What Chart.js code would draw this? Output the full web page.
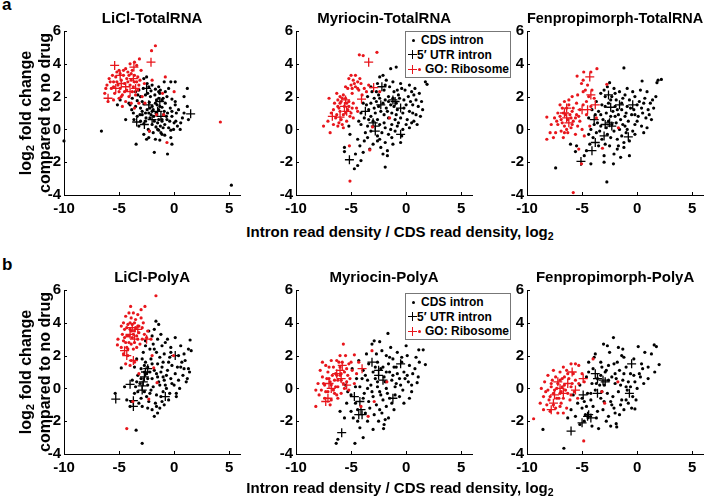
<!DOCTYPE html>
<html>
<head>
<meta charset="utf-8">
<script src="https://cdn.jsdelivr.net/npm/chart.js@4.4.1/dist/chart.umd.min.js"></script>
<style>
  body { margin: 0; background: #fff; }
  #fig { position: relative; width: 707px; height: 499px; overflow: hidden;
         font-family: "Liberation Sans", Arial, sans-serif; font-weight: bold; color: #000; }
  #fig canvas { position: absolute; }
  .txt { position: absolute; white-space: nowrap; line-height: 16px; }
  .ytitle { position: absolute; width: 220px; height: 38px; line-height: 19px; font-size: 16px;
            text-align: center; transform: rotate(-90deg); white-space: nowrap; }
  .xtitle { position: absolute; width: 400px; text-align: center; font-size: 15px; line-height: 16px; white-space: nowrap; }
  sub { font-size: 70%; line-height: 0; vertical-align: -0.3em; }
  .legend { position: absolute; width: 104px; height: 45px; border: 1px solid #777; background: #fff; font-size: 12px; }
  .legend .item { position: absolute; line-height: 14px; white-space: nowrap; }
  .dot { position: absolute; width: 3px; height: 3px; border-radius: 50%; }
  .plus { position: absolute; width: 9px; height: 9px; }
  .plus::before, .plus::after { content: ""; position: absolute; background: currentColor; }
  .plus::before { left: 0; top: 4px; width: 9px; height: 1.3px; }
  .plus::after { left: 4px; top: 0; width: 1.3px; height: 9px; }
</style>
</head>
<body>
<div id="fig"></div>
<script>
const xTicks = [-10, -5, 0, 5];
const yTicks = [-4, -2, 0, 2, 4, 6];
const panelTitles = ["LiCl-TotalRNA", "Myriocin-TotalRNA", "Fenpropimorph-TotalRNA",
                     "LiCl-PolyA", "Myriocin-PolyA", "Fenpropimorph-PolyA"];
const seriesNames = ["CDS intron", "5\u2032 UTR intron", "GO: Ribosome"];

// LiCl-TotalRNA
const liclTotalCds = [
  [-2.75,3.1],[-2.5,3.2],[-0.3,2.9],[0.1,2.9],[-0.9,2.9],[-2.45,2.8],[-2.3,2.6],[-2.0,2.7],[-1.4,2.6],[-1.25,2.4],
  [-1.7,2.45],[1.2,2.5],[-3.2,2.4],[-3.5,2.3],[-0.5,2.5],[-2.1,2.35],[-3.8,1.9],[-3.05,2.0],[-2.6,2.1],[-2.15,2.0],
  [-1.75,2.1],[-1.4,1.9],[-1.1,1.8],[-0.65,2.0],[-0.2,1.85],[0.1,1.7],[-3.35,1.75],[-4.9,1.8],[-5.15,1.5],[-4.1,1.6],
  [-3.5,1.4],[-3.05,1.3],[-2.75,1.55],[-2.45,1.2],[-2.0,1.4],[-1.55,1.5],[-1.4,1.2],[-1.1,1.35],[-0.8,1.6],[-0.35,1.3],
  [0.1,1.5],[0.4,1.2],[1.2,1.4],[-3.85,1.2],[-2.25,1.65],[-1.7,1.6],[-4.4,0.6],[-3.35,0.8],[-2.9,0.9],[-2.55,0.7],
  [-2.3,1.0],[-1.85,0.8],[-1.65,1.0],[-1.4,0.6],[-0.95,0.9],[-0.65,0.6],[-0.2,0.8],[0.15,0.5],[0.75,0.7],[-1.1,0.5],
  [-3.05,0.5],[-3.65,0.6],[-3.2,0.2],[-2.75,0.35],[-2.35,0.0],[-2.0,0.3],[-1.65,0.15],[-1.25,0.2],[-0.85,0.3],[-0.5,0.1],
  [-0.05,0.0],[0.3,0.2],[0.55,0.0],[-2.25,-0.1],[-1.4,-0.05],[-0.3,-0.05],[-2.3,-0.5],[-1.7,-0.6],[-1.3,-0.65],[-0.85,-0.35],
  [-0.2,-0.9],[-3.45,-0.9],[-2.75,-0.3],[-1.1,-0.3],[-1.8,-1.4],[-0.6,-1.5],[-6.6,-0.1],[-10,-0.7],[5.2,-3.4],[-1.9,1.2],
  [-0.6,1.0],[-2.6,1.0],[-1.0,0.1],[0.0,0.4],[-2.1,0.9],[-1.5,0.4],[0.9,1.0],[1.3,0.6],[-2.9,1.7],[-1.3,2.2],
  [-2.2,1.3],[-1.8,0.5],[-1.3,1.4],[-0.9,1.1],[-2.6,0.5],[-1.6,1.8],[-0.4,0.5],[-2.9,1.1],[-1.2,-0.2],[-0.7,0.8],
  [-2.4,2.2],[-1.9,-0.2],[0.2,1.0],[-3.1,0.9],[-1.0,1.9],[-2.0,1.1],[-1.5,0.0],[-0.2,1.1],[-3.3,2.1],[-2.8,2.5],
  [-0.8,2.3],[0.6,0.4],[-1.4,2.3],[-2.5,-0.6],[-0.3,-0.5],[0.9,2.0],[-3.7,1.0],[-4.0,1.5],[-2.2,0.7],[-1.1,0.6]
];
const liclTotalUtr = [[1.5,0.95],[-2.5,2.5],[-3.4,0.45],[-2.7,0.3],[-1.5,1.1],[-1.3,1.7],[-2.0,0.6],[-1.2,0.8],[-2.3,1.5]];
const liclTotalRiboCds = [
  [-1.7,5.1],[-2.05,4.8],[-3.15,4.3],[-4.0,4.0],[-3.6,4.1],[-3.4,3.9],[-3.8,3.6],[-4.2,3.5],[-5.0,3.6],[-5.6,3.3],
  [-5.9,3.1],[-5.3,3.2],[-4.6,3.3],[-4.3,3.1],[-3.6,3.3],[-3.3,3.2],[-3.9,3.0],[-4.8,3.0],[-5.5,2.9],[-6.1,2.7],
  [-5.1,2.7],[-4.5,2.8],[-4.0,2.7],[-3.6,2.9],[-3.2,2.7],[-5.7,2.5],[-4.9,2.5],[-4.3,2.4],[-3.8,2.3],[-3.3,2.4],
  [-6.3,2.2],[-5.4,2.2],[-4.7,2.1],[-4.1,2.0],[-3.5,2.1],[-2.9,2.0],[-6.0,1.7],[-5.5,1.8],[-5.0,1.9],[-4.4,1.7],
  [-3.9,1.6],[-3.2,1.6],[-4.7,1.4],[-3.6,1.3],[-2.65,1.6],[-0.8,3.2],[0.0,2.3],[-1.05,2.2],[-0.95,0.9],[4.2,0.45],
  [-2.25,-0.1],[-0.65,-0.8],[-2.0,3.0],[-1.6,0.9],[-5.2,3.5],[-4.4,3.7],[-3.0,3.6],[-2.7,2.8],
  [-4.9,3.4],[-4.2,2.9],[-3.7,2.6],[-5.2,2.9],[-4.5,2.3],[-5.8,2.9],[-3.9,3.4],[-4.8,2.0],[-3.4,2.9],[-5.5,2.6],
  [-4.1,3.3],[-4.6,3.6],[-3.1,3.0],[-5.0,2.3],[-6.2,2.5]
];
const liclTotalRiboUtr = [[-5.4,3.9],[-3.65,3.8],[-2.1,4.1],[-6.0,1.9],[-4.8,2.8],[-4.4,2.6],[-3.7,3.1],[-4.0,2.3],[-5.3,2.5],[-3.5,2.5],[-4.9,3.3]];

// Myriocin-TotalRNA
const myrTotalCds = [
  [-1.4,3.7],[-0.9,3.8],[-2.4,3.2],[-2.1,3.3],[-1.8,3.0],[-1.2,2.9],[-0.5,2.8],[0.3,2.7],[0.8,2.5],[1.75,2.9],
  [1.9,2.75],[-2.6,2.8],[-3.2,2.6],[-1.5,2.6],[-0.8,2.4],[0.5,2.3],[1.2,2.2],[-2.0,2.4],[-3.5,2.0],[-2.9,1.9],
  [-2.5,2.1],[-1.9,1.8],[-1.6,2.0],[-1.2,1.9],[-0.7,2.1],[-0.2,1.8],[0.2,2.0],[0.9,1.8],[1.4,1.7],[-3.9,1.6],
  [-3.2,1.6],[-2.7,1.7],[-2.1,1.6],[-1.4,1.5],[-0.9,1.6],[0.0,1.5],[0.6,1.5],[1.5,1.2],[-4.1,1.0],[-3.4,1.2],
  [-2.9,1.3],[-2.3,1.1],[-1.8,1.3],[-1.3,1.0],[-0.8,1.2],[-0.3,1.0],[0.3,1.1],[0.9,0.9],[-3.8,0.7],[-3.2,0.8],
  [-2.6,0.6],[-2.0,0.9],[-1.6,0.7],[-1.0,0.6],[-0.5,0.7],[0.1,0.6],[0.7,0.5],[1.0,0.3],[-4.1,0.3],[-3.5,0.2],
  [-3.0,0.5],[-2.4,0.3],[-1.9,0.1],[-1.3,0.3],[-0.8,0.2],[-0.3,0.0],[0.3,0.1],[-3.7,-0.2],[-3.2,-0.1],[-2.2,-0.2],
  [-1.6,-0.3],[-1.0,-0.1],[-0.4,-0.4],[-5.2,0.2],[-5.1,-0.3],[-4.4,-0.6],[-3.8,-0.7],[-2.6,-0.7],[-1.9,-0.8],[-1.2,-0.9],
  [-0.5,-0.8],[-3.3,-1.2],[-2.3,-1.1],[-1.7,-1.3],[-3.9,-1.4],[-4.6,-1.5],[-1.7,-1.6],[-5.6,-1.1],[-5.6,-1.35],[-4.4,-2.2],
  [-4.7,-2.4],[-1.9,-2.3],[-4.1,-1.9],[-2.6,-0.4],[-1.1,2.3],[0.6,1.0],[-2.4,1.9],[-0.1,2.4],
  [-2.5,1.4],[-1.1,1.4],[-0.6,1.9],[-1.7,1.1],[0.4,1.7],[-2.0,0.4],[-0.9,0.9],[0.5,0.4],[-3.4,0.6],[-2.8,1.0],
  [-1.4,0.0],[-0.2,1.3],[1.1,1.4],[-3.1,2.3],[-1.9,2.7],[-0.4,2.5],[0.7,2.1],[-2.4,-0.6],[-1.3,-0.5],[-3.5,-0.5],
  [-4.3,0.5],[-3.6,1.5],[-0.7,0.4],[1.3,0.8],[-2.1,-1.5],[-3.0,-0.9],[-4.2,-1.0],[0.0,0.3],[-1.6,1.7],[-2.7,2.3]
];
const myrTotalUtr = [[-5.15,-1.85],[-3.7,1.1],[-2.2,2.6],[-2.3,1.5],[-1.0,1.7],[-0.5,1.3],[-2.8,0.2],[-2.8,-0.1],[-0.5,-0.3],[-1.2,1.8],[-3.0,0.4]];
const myrTotalRiboCds = [
  [-4.25,4.55],[-3.9,4.5],[-2.65,4.7],[-5.0,3.3],[-4.6,3.3],[-5.2,3.1],[-4.8,3.0],[-4.4,2.9],[-4.1,2.8],[-5.0,2.7],
  [-4.6,2.6],[-3.8,2.5],[-4.3,2.4],[-5.3,2.5],[-3.6,2.3],[-4.9,2.2],[-4.0,2.1],[-6.0,2.0],[-7.0,1.9],[-6.3,2.2],
  [-5.7,2.1],[-5.5,1.9],[-6.5,1.6],[-5.9,1.7],[-5.2,1.7],[-4.8,1.6],[-6.2,1.4],[-5.6,1.4],[-5.3,1.2],[-6.0,1.1],
  [-6.8,1.0],[-5.7,0.9],[-5.1,0.8],[-6.4,0.7],[-5.9,0.6],[-5.4,0.5],[-7.1,0.5],[-6.6,0.3],[-7.5,0.2],[-6.2,0.2],
  [-6.9,-0.2],[-5.7,0.1],[-4.8,0.7],[-4.5,1.3],[-3.05,0.15],[-1.5,0.7],[-5.15,-1.0],[-3.3,-1.25],[-5.1,-3.15],[-4.4,1.1],
  [-3.4,2.7],[-2.4,2.3],[-5.5,2.6],[-6.2,1.8],[-4.9,1.3],
  [-5.8,1.9],[-5.4,1.6],[-6.1,1.3],[-5.5,1.0],[-6.3,0.9],[-5.8,0.3],[-6.0,1.6],[-4.7,2.8],[-4.4,2.5],[-4.9,2.5],
  [-4.2,3.1],[-5.2,1.4],[-6.6,1.2],[-5.0,1.0],[-6.1,0.4]
];
const myrTotalRiboUtr = [[-3.4,4.1],[-2.95,2.55],[-4.05,1.85],[-6.7,0.8],[-6.0,0.75],[-5.5,1.8],[-5.4,1.1],[-5.6,1.4]];

// Fenpropimorph-TotalRNA
const fenTotalCds = [
  [-1.2,3.75],[0.45,2.95],[1.9,3.0],[2.2,3.05],[1.8,2.85],[-2.5,2.85],[-2.7,2.6],[-2.1,2.5],[-1.6,2.3],[-0.9,2.5],
  [-0.2,2.0],[0.9,2.3],[-3.3,2.2],[-2.9,2.0],[-2.3,2.0],[-1.9,1.8],[-1.3,1.9],[-0.7,1.8],[0.2,1.7],[0.7,1.9],
  [1.4,1.8],[1.7,2.0],[-3.7,1.7],[-3.2,1.5],[-2.6,1.6],[-2.0,1.4],[-1.4,1.2],[-0.9,1.4],[-0.3,1.2],[0.4,1.3],
  [1.0,1.2],[1.5,1.3],[-4.1,1.2],[-3.5,1.1],[-2.8,1.0],[-2.2,1.1],[-1.7,0.9],[-1.1,0.8],[-0.5,0.9],[0.1,0.8],
  [0.8,0.7],[1.3,0.6],[-4.4,0.7],[-3.6,0.4],[-3.1,0.6],[-2.6,0.5],[-1.9,0.4],[-1.3,0.3],[-0.8,0.5],[-0.2,0.3],
  [0.4,0.2],[0.9,0.1],[-4.2,0.0],[-3.4,-0.1],[-2.8,0.1],[-2.1,-0.1],[-1.6,0.0],[-1.0,-0.2],[-0.4,-0.1],[0.6,-0.2],
  [-4.0,-0.5],[-3.2,-0.6],[-2.4,-0.5],[-1.8,-0.6],[-1.2,-0.8],[-0.7,-0.7],[-4.3,-0.9],[-3.5,-1.0],[-2.5,-1.0],[-1.8,-1.2],
  [-1.2,-1.1],[-0.7,-1.6],[-4.6,-1.3],[-3.0,-1.6],[-2.1,-1.5],[-1.5,-1.7],[-6.05,-0.9],[-5.6,-1.35],[-5.5,-1.0],[-4.2,-2.1],
  [-2.15,-2.1],[-2.75,-3.2],[-7.4,-2.35],[-4.8,-1.6],[-3.0,-2.0],[-1.1,2.1],[-2.4,0.8],[0.0,1.5],[-3.9,0.3],[-1.5,0.6],
  [-2.4,1.8],[-1.8,1.2],[-1.0,1.0],[-0.2,0.9],[-2.9,1.4],[-2.0,0.8],[-1.4,1.6],[-0.6,1.3],[0.5,1.0],[-3.3,0.9],
  [-2.3,0.3],[-1.1,0.2],[0.0,0.5],[1.1,0.9],[-3.8,0.9],[-2.7,-0.3],[-1.4,-0.4],[-0.2,-0.3],[-3.7,-0.2],[-2.0,2.2],
  [-0.4,2.3],[0.6,1.6],[-3.0,2.4],[-1.7,-1.0],[-2.9,-0.9],[1.2,1.6],[-0.9,0.0],[-4.4,-0.3],[-3.3,0.2],[0.3,2.4]
];
const fenTotalUtr = [[-5.1,-1.95],[-3.8,-0.8],[-4.1,-1.3],[-3.9,0.6],[-2.9,0.3],[-2.5,0.4],[-2.4,1.35],[-2.6,2.1],[-1.6,1.5],[-0.4,1.5],[-3.0,-0.4],[-0.8,-0.45],[-2.3,0.2]];
const fenTotalRiboCds = [
  [-3.65,3.7],[-4.2,3.5],[-4.85,3.5],[-5.45,3.25],[-4.9,3.0],[-5.05,2.8],[-4.5,2.7],[-4.1,2.4],[-4.9,2.3],[-5.4,2.1],
  [-4.4,2.0],[-3.9,1.9],[-5.9,2.0],[-6.6,1.7],[-6.2,1.8],[-5.5,1.6],[-4.9,1.5],[-4.2,1.4],[-7.0,1.5],[-6.4,1.3],
  [-5.8,1.3],[-5.2,1.2],[-7.2,1.0],[-6.7,1.0],[-6.1,0.9],[-5.5,0.9],[-4.6,0.9],[-7.5,0.7],[-6.9,0.6],[-6.3,0.6],
  [-5.8,0.5],[-5.2,0.5],[-7.8,0.3],[-7.2,0.3],[-6.6,0.2],[-6.0,0.1],[-5.4,0.2],[-7.9,-0.2],[-7.4,-0.2],[-6.9,-0.1],
  [-6.3,-0.2],[-5.6,-0.3],[-8.2,-0.6],[-7.6,-0.5],[-6.7,-0.5],[-8.2,0.75],[-4.8,-0.4],[-2.75,2.75],[-1.7,0.1],[-3.15,-1.15],
  [-5.3,-1.2],[-5.05,-2.1],[-5.8,-3.85],[-4.3,0.2],[-3.7,0.7],[-5.0,0.0],
  [-6.5,0.9],[-6.0,0.7],[-6.8,0.4],[-6.4,0.0],[-5.9,1.1],[-6.2,1.5],[-7.0,0.8],[-5.6,0.7],[-6.6,-0.2],[-7.3,0.5],
  [-5.9,0.3],[-6.8,1.3],[-5.3,0.8],[-4.7,2.4],[-4.6,1.7]
];
const fenTotalRiboUtr = [[-4.3,3.2],[-4.2,2.1],[-3.8,1.5],[-4.5,1.2],[-5.0,1.2],[-6.4,1.3],[-6.4,0.7],[-6.2,0.4],[-6.6,1.0]];

// LiCl-PolyA
const liclPolyCds = [
  [-1.65,4.1],[-1.4,3.9],[-2.3,3.5],[-1.8,3.6],[-1.2,3.3],[-2.0,3.2],[-1.5,3.0],[-0.6,3.0],[0.1,3.1],[1.45,2.95],
  [-2.6,2.9],[-1.9,2.7],[-1.1,2.6],[-0.3,2.5],[0.6,2.6],[1.55,2.3],[1.3,2.4],[-2.8,2.2],[-2.2,2.4],[-1.6,2.2],
  [-0.9,2.1],[-0.4,1.9],[0.4,2.0],[1.0,1.7],[-3.4,1.8],[-2.6,1.6],[-2.1,1.8],[-1.5,1.5],[-1.0,1.6],[-0.2,1.4],
  [0.6,1.3],[1.3,1.2],[-4.8,1.25],[-3.6,1.3],[-3.0,1.2],[-2.4,1.3],[-1.8,1.1],[-1.2,1.0],[-0.6,1.1],[0.1,0.9],
  [0.8,0.8],[1.4,1.0],[-3.3,0.8],[-2.5,0.9],[-2.0,0.6],[-1.5,0.7],[-0.9,0.5],[-0.3,0.6],[0.4,0.5],[1.1,0.4],
  [-3.8,0.5],[-3.1,0.3],[-2.4,0.2],[-1.9,0.1],[-1.3,0.2],[-0.7,0.0],[0.0,0.2],[-3.3,-0.2],[-2.7,-0.2],[-2.2,-0.3],
  [-1.6,-0.4],[-1.0,-0.2],[-0.4,-0.3],[0.2,-0.5],[-3.0,-0.6],[-2.3,-0.8],[-1.7,-0.9],[-1.1,-0.8],[-0.5,-0.7],[-5.35,-0.3],
  [-4.3,-0.7],[-4.0,-1.1],[-2.9,-1.1],[-2.0,-1.3],[-1.5,-1.5],[-1.8,-1.7],[-1.3,-1.2],[-3.45,-2.55],[-2.9,-3.35],[-3.9,-0.8],
  [-4.5,0.1],[0.2,-0.3],[-2.7,1.4],[-1.3,1.9],[-0.7,0.8],[0.7,1.6],[-2.4,0.6],[-3.5,0.1],
  [-2.2,1.0],[-1.6,0.9],[-1.1,1.3],[-0.5,1.6],[-2.7,1.0],[-2.0,1.5],[-1.4,0.4],[-0.8,0.2],[0.3,1.3],[-3.0,0.6],
  [-2.5,-0.5],[-1.2,-0.5],[-0.2,0.3],[0.9,1.2],[-3.4,0.4],[-2.1,-0.1],[-0.9,-1.0],[-1.8,2.4],[-0.8,2.8],[0.9,2.1],
  [-2.9,1.8],[-3.2,-0.9],[-2.4,-1.2],[0.5,0.0],[1.2,0.6],[-1.0,0.7],[-0.3,2.2],[-2.6,2.6],[-1.6,-1.1],[-3.6,-0.3]
];
const liclPolyUtr = [[-5.3,-0.65],[-3.7,-1.1],[-3.7,-0.75],[-4.0,0.25],[-2.7,0.7],[-2.6,1.0],[-2.9,-0.1],[-2.9,0.15],[0.1,2.0],[-0.8,-0.5],[-2.8,0.4],[-2.4,1.2]];
const liclPolyRiboCds = [
  [-1.65,5.65],[-3.95,5.0],[-2.65,5.0],[-4.1,4.6],[-3.7,4.6],[-3.3,4.5],[-3.0,4.3],[-4.4,4.4],[-3.9,4.3],[-3.5,4.2],
  [-2.8,4.0],[-4.6,4.0],[-4.2,3.9],[-3.8,3.9],[-3.3,3.8],[-2.9,3.7],[-4.5,3.6],[-4.0,3.6],[-3.6,3.5],[-3.2,3.4],
  [-2.7,3.3],[-4.7,3.3],[-4.3,3.2],[-3.8,3.1],[-3.4,3.2],[-2.9,3.0],[-2.5,3.1],[-5.1,3.0],[-4.6,2.9],[-4.1,2.8],
  [-3.6,2.8],[-3.1,2.7],[-5.15,2.65],[-4.8,2.5],[-4.3,2.5],[-3.7,2.4],[-4.6,2.1],[-4.2,2.0],[-3.9,1.7],[-4.4,1.5],
  [-3.6,1.6],[-4.0,1.4],[-2.0,2.0],[-0.05,2.0],[-2.3,-0.65],[-1.55,0.35],[-3.2,0.9],[-3.75,-0.8],[-1.85,1.25],[-4.3,-2.45],
  [-2.4,3.5],[-3.0,4.8],[-2.1,3.0],
  [-3.9,3.5],[-3.5,3.7],[-4.1,3.2],[-3.7,3.3],[-4.3,3.7],[-3.3,3.0],[-4.0,4.0],[-3.6,4.0],[-4.5,3.1],[-3.9,2.7],
  [-3.2,3.8],[-4.2,2.4],[-4.8,3.8],[-3.4,2.5],[-4.4,2.8]
];
const liclPolyRiboUtr = [[-3.8,3.7],[-3.3,3.6],[-2.5,3.0],[-4.5,2.3],[-4.3,2.0],[-3.7,1.7],[-4.0,3.3],[-3.6,3.0]];

// Myriocin-PolyA
const myrPolyCds = [
  [-1.65,3.35],[-2.9,2.9],[-2.4,2.85],[-3.1,2.7],[0.0,2.6],[1.15,2.35],[1.55,2.35],[-1.4,2.5],[-0.8,2.2],[-2.2,2.3],
  [-3.6,2.1],[-1.8,2.0],[-0.4,1.9],[0.9,1.9],[1.2,1.6],[-4.3,1.7],[-3.4,1.5],[-2.6,1.6],[-1.6,1.5],[-1.1,1.3],
  [0.3,1.4],[1.75,1.45],[-4.9,1.2],[-3.9,1.1],[-3.0,1.0],[-2.3,1.2],[-1.5,1.0],[-0.8,0.9],[-0.2,1.0],[0.6,0.9],
  [1.1,0.7],[-4.5,0.6],[-3.5,0.5],[-2.8,0.6],[-2.0,0.7],[-1.3,0.5],[-0.6,0.6],[0.2,0.4],[1.0,0.35],[-5.5,0.2],
  [-4.2,0.1],[-3.2,0.2],[-2.6,0.1],[-1.8,0.0],[-1.0,0.1],[-0.3,-0.1],[0.5,-0.2],[-5.0,-0.4],[-3.8,-0.3],[-3.0,-0.5],
  [-2.3,-0.4],[-1.5,-0.6],[-0.6,-0.5],[-5.4,-0.9],[-4.6,-0.9],[-3.4,-0.8],[-2.7,-1.0],[-1.8,-1.1],[-1.1,-1.3],[-0.2,-0.9],
  [-5.0,-1.4],[-4.4,-1.3],[-3.7,-1.5],[-2.9,-1.6],[-2.2,-1.5],[-1.6,-1.8],[-4.8,-1.8],[-3.5,-2.0],[-2.5,-2.0],[-1.9,-1.9],
  [-6.35,-3.35],[-4.65,-3.35],[-6.2,-3.1],[-2.05,-2.45],[-4.2,-2.4],[-3.9,-3.0],[-6.0,-1.4],[-5.6,-1.8],[-4.4,-2.0],[-1.2,1.8],
  [-2.1,1.3],[-0.9,0.3],[-3.7,0.8],[0.1,0.8],
  [-2.6,0.4],[-1.9,0.4],[-1.2,0.8],[-0.5,0.2],[-2.4,-0.2],[-1.7,-0.3],[-1.0,-0.4],[-3.5,0.0],[-3.1,-0.2],[-2.1,-0.7],
  [-0.9,1.3],[-0.1,0.6],[0.8,1.2],[-1.5,1.9],[-2.8,1.3],[-3.9,-0.6],[-3.3,-1.2],[-2.4,-1.3],[-1.3,-0.9],[0.3,-0.6],
  [-4.0,0.6],[-4.6,0.1],[-0.4,1.6],[0.5,0.2],[-2.0,-2.2],[-3.0,-2.5],[-5.3,-0.2],[-1.8,1.0],[0.1,2.0],[-2.7,2.1]
];
const myrPolyUtr = [[-3.1,1.6],[-0.5,1.5],[-4.7,-0.5],[-4.2,-0.8],[-4.1,-1.3],[-4.3,-1.6],[-4.0,-1.6],[-2.5,0.8],[-2.1,0.5],[-1.2,-0.6],[-5.85,-2.7],[-2.5,1.1]];
const myrPolyRiboCds = [
  [-5.7,2.7],[-4.7,2.05],[-3.1,2.3],[-6.0,2.0],[-5.5,2.0],[-6.8,1.7],[-6.3,1.7],[-5.8,1.6],[-5.2,1.5],[-7.6,1.6],
  [-7.3,1.4],[-6.6,1.3],[-6.0,1.3],[-5.4,1.2],[-4.9,1.1],[-7.8,1.1],[-7.1,1.0],[-6.4,0.9],[-5.9,0.9],[-5.3,0.8],
  [-4.5,0.9],[-7.6,0.7],[-7.0,0.6],[-6.5,0.5],[-5.9,0.5],[-5.4,0.4],[-8.0,0.3],[-7.4,0.2],[-6.8,0.2],[-6.2,0.1],
  [-5.6,0.0],[-8.2,-0.1],[-7.7,-0.1],[-7.1,-0.2],[-6.5,-0.3],[-5.9,-0.3],[-5.2,-0.1],[-7.4,-0.6],[-6.8,-0.7],[-6.2,-0.6],
  [-7.9,-0.4],[-8.2,-1.1],[-6.9,-1.0],[-3.45,-1.7],[-1.75,0.4],[-2.9,-0.8],[-4.1,-1.1],[-4.7,0.3],[-5.0,1.6],[-6.3,0.8],
  [-4.3,1.6],
  [-6.7,0.8],[-6.2,0.5],[-6.9,0.4],[-6.4,0.1],[-7.2,0.6],[-6.0,0.8],[-5.7,0.3],[-6.6,-0.1],[-7.0,1.3],[-6.1,1.6],
  [-5.6,1.0],[-7.5,0.3],[-7.3,-0.2],[-6.3,-0.4],[-5.1,0.6]
];
const myrPolyRiboUtr = [[-7.3,-0.8],[-7.1,-0.6],[-5.8,1.4],[-5.9,0.6],[-6.3,0.9],[-7.0,0.3],[-5.4,0.2],[-4.0,1.2],[-6.8,0.0],[-6.0,1.1]];

// Fenpropimorph-PolyA
const fenPolyCds = [
  [-2.15,3.1],[-3.05,2.7],[-1.7,2.5],[0.1,2.55],[1.55,2.65],[1.75,2.55],[2.0,1.45],[-3.8,2.1],[-2.5,2.2],[-1.4,2.0],
  [-0.3,1.8],[1.3,2.1],[-4.4,1.6],[-3.3,1.6],[-2.1,1.5],[-1.0,1.3],[0.5,1.2],[1.6,1.0],[-4.0,1.2],[-2.8,1.1],
  [-1.6,1.1],[-0.6,0.9],[0.3,0.7],[1.0,0.6],[-4.6,0.7],[-3.3,0.8],[-2.3,0.7],[-1.3,0.5],[-0.2,0.4],[0.6,0.3],
  [-5.2,0.2],[-4.1,0.3],[-3.0,0.2],[-2.0,0.3],[-1.0,0.1],[0.0,0.0],[-5.8,-0.4],[-4.5,-0.3],[-3.8,-0.1],[-2.7,-0.3],
  [-1.7,-0.2],[-0.4,-0.5],[-5.4,-0.9],[-4.2,-0.7],[-3.3,-0.6],[-2.4,-0.8],[-1.4,-0.7],[-0.8,-0.9],[-6.0,-1.3],[-5.0,-1.2],
  [-4.0,-1.1],[-3.1,-1.3],[-2.1,-1.2],[-1.2,-1.3],[-0.5,-1.2],[-0.2,-1.25],[-5.6,-1.7],[-4.7,-1.6],[-3.7,-1.8],[-2.6,-1.7],
  [-1.6,-1.6],[-5.2,-2.2],[-4.1,-2.3],[-3.5,-2.45],[-1.85,-2.35],[-1.9,-2.15],[-2.8,-2.0],[-6.65,-3.65],[-8.55,-2.5],[-6.3,-1.8],
  [-0.9,-0.1],[-3.6,0.6],[-2.3,-1.0],[-1.2,1.9],[-2.6,1.4],[-3.9,1.9],[-3.2,-0.2],[-1.5,0.2],[-4.8,-0.8],[-2.0,0.9],
  [-2.6,0.5],[-1.9,0.6],[-1.2,0.9],[-0.6,0.1],[-2.2,-0.5],[-3.4,0.2],[-3.0,-0.8],[-1.5,-1.0],[-0.8,0.4],[0.2,0.9],
  [-4.2,-0.3],[-3.7,0.3],[-2.0,-1.5],[-1.0,-0.7],[0.4,1.5],[-3.6,-1.4],[-4.6,-1.1],[-2.9,1.0],[-1.8,1.6],[-0.3,0.8],
  [-4.4,1.0],[-5.0,-0.6],[-2.4,-2.3],[-4.8,-2.0],[1.0,1.3],[-0.1,-0.7],[-2.7,2.6],[-1.3,2.4],[0.7,2.2],[-3.2,1.3]
];
const fenPolyUtr = [[-6.0,-2.6],[-5.0,-2.1],[-4.5,-1.7],[-4.2,-1.8],[-4.4,-1.6],[-4.9,-0.4],[-3.8,0.9],[-3.6,-0.3],[-3.1,0.5],[-2.9,0.4],[-0.7,-0.3],[-0.5,1.5],[-3.6,0.6]];
const fenPolyRiboCds = [
  [-9.4,-1.85],[-4.85,-3.2],[-4.0,1.8],[-3.2,-0.2],[-2.95,-0.9],[-1.75,0.4],[-6.0,1.5],[-5.6,1.5],[-6.7,1.3],[-5.3,1.4],
  [-7.6,1.1],[-7.0,1.0],[-6.4,1.1],[-5.8,0.9],[-5.0,0.9],[-8.1,0.8],[-7.4,0.7],[-6.8,0.6],[-6.2,0.6],[-5.6,0.5],
  [-8.4,0.4],[-7.8,0.3],[-7.2,0.3],[-6.6,0.2],[-6.0,0.1],[-5.3,0.3],[-8.7,0.0],[-8.1,-0.1],[-7.5,-0.1],[-6.9,-0.2],
  [-6.3,-0.3],[-5.7,-0.2],[-8.5,-0.5],[-7.9,-0.5],[-7.3,-0.6],[-6.7,-0.6],[-6.1,-0.7],[-8.8,-0.9],[-8.2,-1.0],[-7.6,-1.0],
  [-7.0,-1.1],[-6.4,-1.2],[-7.9,-1.4],[-7.2,-1.5],[-6.7,-1.5],[-8.5,-1.3],[-5.4,-0.6],[-4.8,0.4],[-7.0,-0.3],[-7.7,0.5],
  [-7.3,0.0],[-6.8,0.1],[-7.6,-0.3],[-7.1,-0.6],[-6.5,-0.1],[-7.8,0.1],[-7.0,0.5],[-6.3,0.9],[-7.4,-1.2],[-8.0,-0.7],
  [-6.6,0.7],[-5.9,0.3],[-8.3,-0.2],[-6.9,-0.9],[-6.0,-0.4]
];
const fenPolyRiboUtr = [[-7.8,-1.3],[-7.0,0.0],[-6.3,0.3],[-5.9,1.0],[-5.6,-0.1],[-7.5,-0.4],[-4.9,0.6],[-7.2,0.4],[-6.7,-0.3],[-7.6,-0.9]];

const panels = [
  { title: panelTitles[0], cds: liclTotalCds, utr: liclTotalUtr, riboCds: liclTotalRiboCds, riboUtr: liclTotalRiboUtr },
  { title: panelTitles[1], cds: myrTotalCds, utr: myrTotalUtr, riboCds: myrTotalRiboCds, riboUtr: myrTotalRiboUtr },
  { title: panelTitles[2], cds: fenTotalCds, utr: fenTotalUtr, riboCds: fenTotalRiboCds, riboUtr: fenTotalRiboUtr },
  { title: panelTitles[3], cds: liclPolyCds, utr: liclPolyUtr, riboCds: liclPolyRiboCds, riboUtr: liclPolyRiboUtr },
  { title: panelTitles[4], cds: myrPolyCds, utr: myrPolyUtr, riboCds: myrPolyRiboCds, riboUtr: myrPolyRiboUtr },
  { title: panelTitles[5], cds: fenPolyCds, utr: fenPolyUtr, riboCds: fenPolyRiboCds, riboUtr: fenPolyRiboUtr }
];

// layout (px)
const colLeft = [64, 296, 527];
const rowTop = [31, 290];
const plotW = 178, plotH = 164, yAxisW = 40, xAxisH = 26, titleH = 31, padR = 4;
const red = "rgb(232,22,28)";
const fontFamily = "'Liberation Sans', Arial, sans-serif";

const fig = document.getElementById("fig");

// small inward tick marks, like the original figure
const inwardTicks = {
  id: "inwardTicks",
  afterDraw(chart) {
    const { ctx, chartArea: a, scales: { x, y } } = chart;
    ctx.save();
    ctx.strokeStyle = "#000";
    ctx.lineWidth = 1;
    ctx.beginPath();
    xTicks.forEach(v => {
      const px = Math.round(x.getPixelForValue(v)) + 0.5;
      ctx.moveTo(px, a.bottom);
      ctx.lineTo(px, a.bottom - 3);
    });
    yTicks.forEach(v => {
      const py = Math.round(y.getPixelForValue(v)) + 0.5;
      ctx.moveTo(a.left, py);
      ctx.lineTo(a.left + 3, py);
    });
    ctx.stroke();
    ctx.restore();
  }
};

function addText(cls, html, style) {
  const d = document.createElement("div");
  d.className = cls;
  d.innerHTML = html;
  Object.assign(d.style, style);
  fig.appendChild(d);
  return d;
}

function makePanel(p, left, top) {
  const canvas = document.createElement("canvas");
  canvas.width = yAxisW + plotW + padR;
  canvas.height = titleH + plotH + xAxisH;
  canvas.style.left = (left - yAxisW) + "px";
  canvas.style.top = (top - titleH) + "px";
  fig.appendChild(canvas);

  const axisCommon = {
    type: "linear",
    grid: { display: false, drawTicks: false },
    border: { display: true, color: "#000", width: 1 },
    ticks: { color: "#000", font: { family: fontFamily, size: 15, weight: "bold" }, autoSkip: false, maxRotation: 0 }
  };

  return new Chart(canvas, {
    type: "scatter",
    data: {
      datasets: [
        { data: p.riboUtr, pointStyle: "cross", pointRadius: 4.5, borderColor: red, pointBorderWidth: 1.3, order: 0, clip: false },
        { data: p.riboCds, pointStyle: "circle", pointRadius: 1.6, backgroundColor: red, pointBorderWidth: 0, order: 1, clip: false },
        { data: p.utr, pointStyle: "cross", pointRadius: 4.5, borderColor: "#000", pointBorderWidth: 1.3, order: 2, clip: false },
        { data: p.cds, pointStyle: "circle", pointRadius: 1.6, backgroundColor: "#000", pointBorderWidth: 0, order: 3, clip: false }
      ]
    },
    options: {
      responsive: false,
      animation: false,
      devicePixelRatio: 1,
      events: [],
      layout: { padding: { left: 0, right: padR, top: 0, bottom: 0 } },
      plugins: {
        legend: { display: false },
        tooltip: { enabled: false },
        title: {
          display: true, text: p.title, fullSize: false, color: "#000",
          font: { family: fontFamily, size: 15, weight: "bold", lineHeight: 1.2 },
          padding: { top: 10, bottom: 3 }
        }
      },
      scales: {
        x: Object.assign({}, axisCommon, {
          min: -10, max: 6,
          ticks: Object.assign({}, axisCommon.ticks, { padding: 5 }),
          afterBuildTicks: s => { s.ticks = xTicks.map(v => ({ value: v })); },
          afterFit: s => { s.height = xAxisH; }
        }),
        y: Object.assign({}, axisCommon, {
          min: -4, max: 6,
          ticks: Object.assign({}, axisCommon.ticks, { padding: 3 }),
          afterBuildTicks: s => { s.ticks = yTicks.map(v => ({ value: v })); },
          afterFit: s => { s.width = yAxisW; }
        })
      }
    },
    plugins: [inwardTicks]
  });
}

panels.forEach((p, i) => makePanel(p, colLeft[i % 3], rowTop[Math.floor(i / 3)]));

// panel letters
addText("txt", "a", { left: "2px", top: "-3px", fontSize: "17px" });
addText("txt", "b", { left: "2px", top: "257px", fontSize: "17px" });

// y axis titles
const yTitleHtml = "log<sub>2</sub> fold change<br>compared to no drug";
[113, 372].forEach(cy => addText("ytitle", yTitleHtml, { left: (34.5 - 110) + "px", top: (cy - 19) + "px" }));

// x axis titles
const xTitleHtml = "Intron read density / CDS read density, log<sub>2</sub>";
[224, 480].forEach(t => addText("xtitle", xTitleHtml, { left: (400 - 200) + "px", top: t + "px" }));

// legends
function makeLegend(left, top) {
  const box = document.createElement("div");
  box.className = "legend";
  box.style.left = left + "px";
  box.style.top = top + "px";
  const rows = [8, 22.5, 37];
  const items = [
    { marks: [{ kind: "dot", x: 6, color: "#000" }], textX: 15 },
    { marks: [{ kind: "plus", x: 2, color: "#000" }], textX: 11 },
    { marks: [{ kind: "plus", x: 2, color: red }, { kind: "dot", x: 12, color: red }], textX: 19 }
  ];
  items.forEach((it, i) => {
    const cy = rows[i];
    it.marks.forEach(m => {
      const e = document.createElement("div");
      e.className = m.kind;
      if (m.kind === "dot") {
        e.style.background = m.color;
        e.style.left = m.x + "px";
        e.style.top = (cy - 1.5) + "px";
      } else {
        e.style.color = m.color;
        e.style.left = m.x + "px";
        e.style.top = (cy - 4.5) + "px";
      }
      box.appendChild(e);
    });
    const t = document.createElement("div");
    t.className = "item";
    t.textContent = seriesNames[i];
    t.style.left = it.textX + "px";
    t.style.top = (cy - 7) + "px";
    box.appendChild(t);
  });
  fig.appendChild(box);
}
makeLegend(405, 31);
makeLegend(405, 293);
</script>
</body>
</html>
